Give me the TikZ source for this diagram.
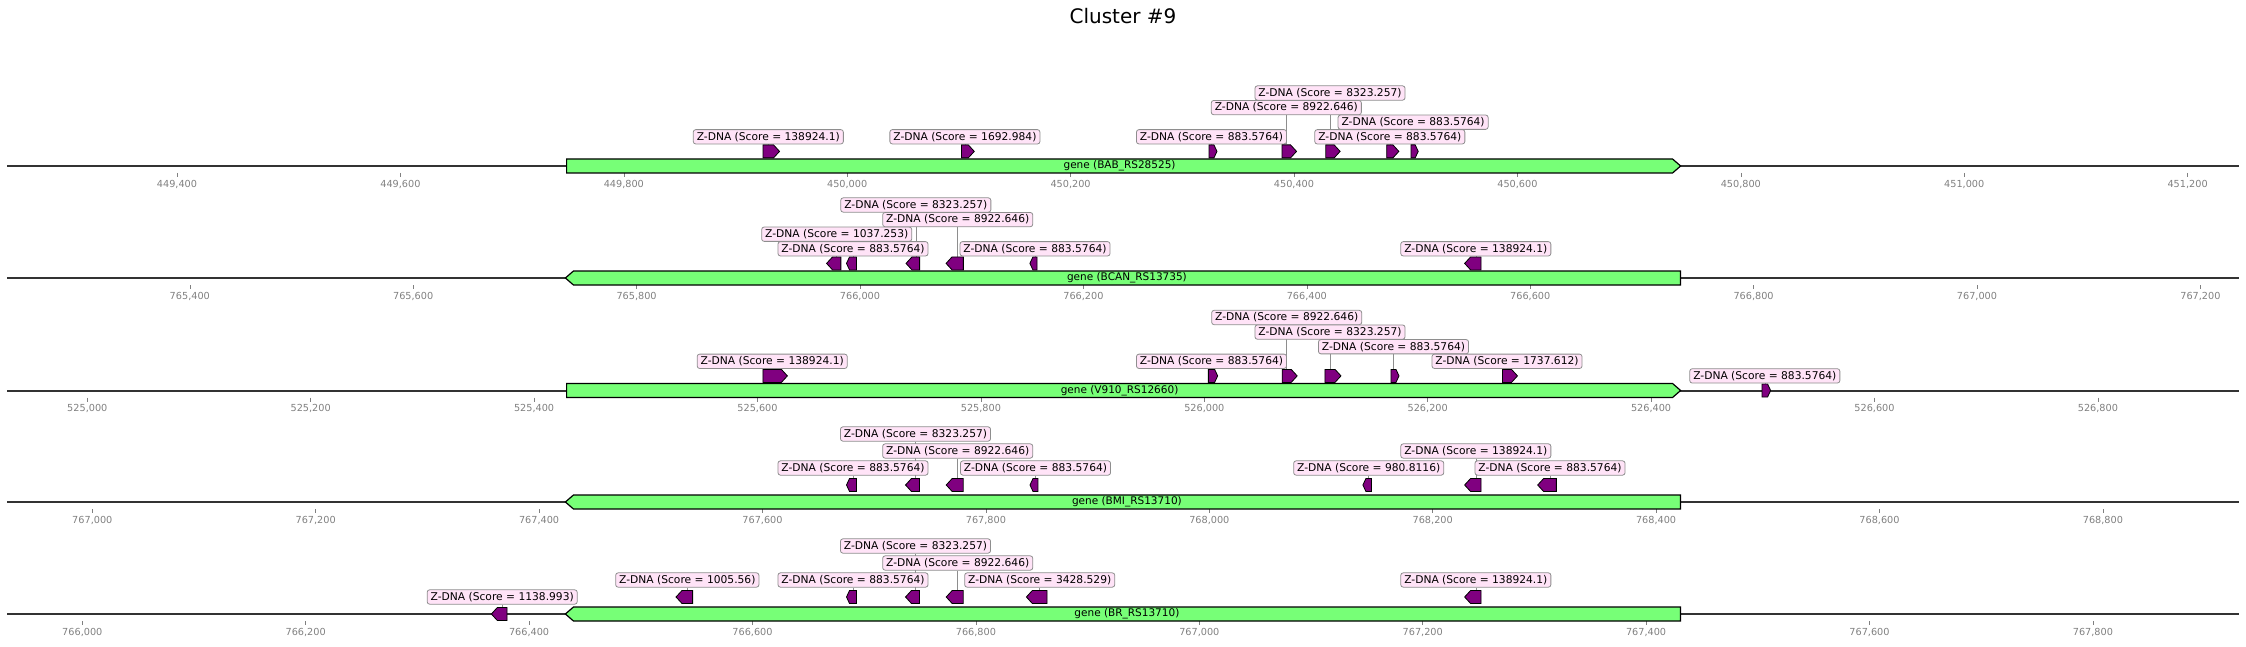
\documentclass[tikz,border=0pt]{standalone}
\usepackage{fontspec}
\setmainfont{DejaVu Sans}
\usetikzlibrary{shapes.symbols,backgrounds}
\definecolor{zpurple}{HTML}{800080}
\definecolor{genegreen}{HTML}{77FF77}
\definecolor{labelpink}{HTML}{FFE3F7}
\definecolor{labelgray}{HTML}{8E8E8E}
\definecolor{axisgray}{HTML}{333333}
\definecolor{tickgray}{HTML}{808080}

\begin{document}
\begin{tikzpicture}[x=1pt,y=-1pt,
 gene/.style={signal,draw=black,fill=genegreen,line width=1.2pt,minimum height=14pt,inner sep=0pt,signal pointer angle=82,font=\fontsize{10.5}{12}\selectfont},
 zfeat/.style={signal,draw=black,fill=zpurple,line width=0.8pt,minimum height=13pt,inner sep=0pt},
 zlabel/.style={draw=labelgray,fill=labelpink,rounded corners=2.5pt,inner xsep=3.5pt,inner ysep=2.4pt,line width=0.8pt,font=\fontsize{10.7}{12}\selectfont},
 link/.style={draw=labelgray,line width=0.6pt},
 axisline/.style={draw=axisgray,line width=2pt},
 tickmark/.style={draw=tickgray,line width=0.6pt},
 ticklabel/.style={text=tickgray,inner sep=0pt,font=\fontsize{9.7}{11}\selectfont}]
\useasboundingbox (0,0) rectangle (2246,647);
\node[font=\fontsize{20}{24}\selectfont] (title) at (1123,16) {Cluster \#9};

% track 1
\begin{scope}[shift={(0,166)},y=14.6pt]
\draw[axisline] (7,0) -- (2239,0);
\foreach \k/\h [count=\i from 0] in {449/400,449/600,449/800,450/000,450/200,450/400,450/600,450/800,451/000,451/200} {
  \draw[tickmark] ({177+223.4*\i},-7pt) -- ({177+223.4*\i},-11pt);
  \node[ticklabel] (ta\i) at ({177+223.4*\i},-18pt) {\k,\h};
}
\node[gene,signal to=east,anchor=west,minimum width=1114pt] (ga) at (566,0) {gene (BAB\_RS28525)};
\foreach \xc/\xw/\lv/\lb/\score [count=\i] in {768.3/16.5/1/2/138924.1,964.9/12.8/1/2/1692.984,1211.5/7.9/1/2/883.5764,1286.3/14.5/1/4/8922.646,1330/14.3/1/5/8323.257,1389.8/12.2/1/2/883.5764,1413.1/7.2/1/3/883.5764} {
  \pgfmathsetmacro\pa{\xw<11 ? 130 : 95}
  \node[zfeat,signal to=east,signal pointer angle=\pa,minimum width=\xw pt] (a\i) at (\xc,\lv) {};
  \node[zlabel] (la\i) at (\xc,\lb) {Z-DNA (Score = \score)};
  \begin{scope}[on background layer]
    \draw[link] (la\i.south) -- (a\i.north);
  \end{scope}
}
\end{scope}

% track 2
\begin{scope}[shift={(0,278)},y=14.6pt]
\draw[axisline] (7,0) -- (2239,0);
\foreach \k/\h [count=\i from 0] in {765/400,765/600,765/800,766/000,766/200,766/400,766/600,766/800,767/000,767/200} {
  \draw[tickmark] ({189.8+223.4*\i},-7pt) -- ({189.8+223.4*\i},-11pt);
  \node[ticklabel] (tb\i) at ({189.8+223.4*\i},-18pt) {\k,\h};
}
\node[gene,signal to=west,anchor=east,minimum width=1115pt] (gb) at (1681,0) {gene (BCAN\_RS13735)};
\foreach \xc/\xw/\lv/\lb/\score [count=\i] in {836.7/14.3/1/3/1037.253,853/10/1/2/883.5764,915.8/13.6/1/5/8323.257,957.7/17.3/1/4/8922.646,1035/7.2/1/2/883.5764,1475.8/16.4/1/2/138924.1} {
  \pgfmathsetmacro\pa{\xw<11 ? 130 : 95}
  \node[zfeat,signal to=west,signal pointer angle=\pa,minimum width=\xw pt] (b\i) at (\xc,\lv) {};
  \node[zlabel] (lb\i) at (\xc,\lb) {Z-DNA (Score = \score)};
  \begin{scope}[on background layer]
    \draw[link] (lb\i.south) -- (b\i.north);
  \end{scope}
}
\end{scope}

% track 3
\begin{scope}[shift={(0,390.5)},y=14.6pt]
\draw[axisline] (7,0) -- (2239,0);
\foreach \k/\h [count=\i from 0] in {525/000,525/200,525/400,525/600,525/800,526/000,526/200,526/400,526/600,526/800} {
  \draw[tickmark] ({87.3+223.4*\i},-7pt) -- ({87.3+223.4*\i},-11pt);
  \node[ticklabel] (tc\i) at ({87.3+223.4*\i},-18pt) {\k,\h};
}
\node[gene,signal to=east,anchor=west,minimum width=1114pt] (gc) at (566,0) {gene (V910\_RS12660)};
\foreach \xc/\xw/\lv/\lb/\score [count=\i] in {772.2/24.4/1/2/138924.1,1211.5/9.3/1/2/883.5764,1286.7/15/1/5/8922.646,1330/16/1/4/8323.257,1393.5/8/1/3/883.5764,1507/15/1/2/1737.612,1764.8/8.6/0/1/883.5764} {
  \pgfmathsetmacro\pa{\xw<11 ? 130 : 95}
  \node[zfeat,signal to=east,signal pointer angle=\pa,minimum width=\xw pt] (c\i) at (\xc,\lv) {};
  \node[zlabel] (lc\i) at (\xc,\lb) {Z-DNA (Score = \score)};
  \begin{scope}[on background layer]
    \draw[link] (lc\i.south) -- (c\i.north);
  \end{scope}
}
\end{scope}

% track 4
\begin{scope}[shift={(0,502)},y=17pt]
\draw[axisline] (7,0) -- (2239,0);
\foreach \k/\h [count=\i from 0] in {767/000,767/200,767/400,767/600,767/800,768/000,768/200,768/400,768/600,768/800} {
  \draw[tickmark] ({92.3+223.4*\i},-7pt) -- ({92.3+223.4*\i},-11pt);
  \node[ticklabel] (td\i) at ({92.3+223.4*\i},-18pt) {\k,\h};
}
\node[gene,signal to=west,anchor=east,minimum width=1115pt] (gd) at (1681,0) {gene (BMI\_RS13710)};
\foreach \xc/\xw/\lv/\lb/\score [count=\i] in {853/10/1/2/883.5764,915.5/14/1/4/8323.257,957.7/17/1/3/8922.646,1035.5/8/1/2/883.5764,1368.7/8.6/1/2/980.8116,1475.8/16.4/1/3/138924.1,1550/18.7/1/2/883.5764} {
  \pgfmathsetmacro\pa{\xw<11 ? 130 : 95}
  \node[zfeat,signal to=west,signal pointer angle=\pa,minimum width=\xw pt] (d\i) at (\xc,\lv) {};
  \node[zlabel] (ld\i) at (\xc,\lb) {Z-DNA (Score = \score)};
  \begin{scope}[on background layer]
    \draw[link] (ld\i.south) -- (d\i.north);
  \end{scope}
}
\end{scope}

% track 5
\begin{scope}[shift={(0,614)},y=17pt]
\draw[axisline] (7,0) -- (2239,0);
\foreach \k/\h [count=\i from 0] in {766/000,766/200,766/400,766/600,766/800,767/000,767/200,767/400,767/600,767/800} {
  \draw[tickmark] ({82.3+223.4*\i},-7pt) -- ({82.3+223.4*\i},-11pt);
  \node[ticklabel] (te\i) at ({82.3+223.4*\i},-18pt) {\k,\h};
}
\node[gene,signal to=west,anchor=east,minimum width=1115pt] (ge) at (1681,0) {gene (BR\_RS13710)};
\foreach \xc/\xw/\lv/\lb/\score [count=\i] in {502.2/15.7/0/1/1138.993,687.3/16.6/1/2/1005.56,853/10/1/2/883.5764,915.5/14/1/4/8323.257,957.7/17/1/3/8922.646,1039.7/20.7/1/2/3428.529,1475.8/16.4/1/2/138924.1} {
  \pgfmathsetmacro\pa{\xw<11 ? 130 : 95}
  \node[zfeat,signal to=west,signal pointer angle=\pa,minimum width=\xw pt] (e\i) at (\xc,\lv) {};
  \node[zlabel] (le\i) at (\xc,\lb) {Z-DNA (Score = \score)};
  \begin{scope}[on background layer]
    \draw[link] (le\i.south) -- (e\i.north);
  \end{scope}
}
\end{scope}
\end{tikzpicture}
\end{document}
